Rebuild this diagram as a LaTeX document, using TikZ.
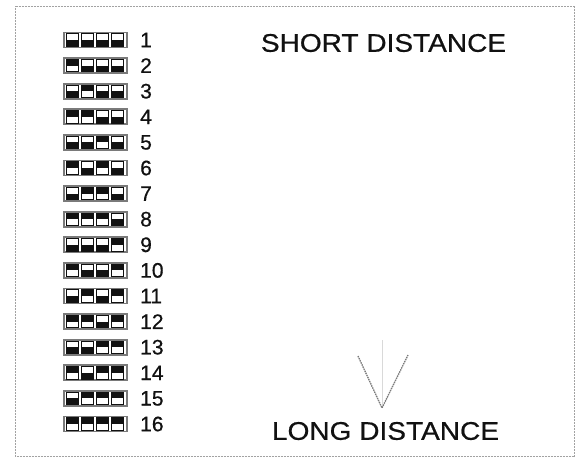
\documentclass[tikz,border=0pt]{standalone}
\usepackage{fontspec}
\setmainfont{Liberation Sans}
\newfontfamily\scanfont{Liberation Sans}[FakeBold=0.6]
\usetikzlibrary{positioning}
\definecolor{ink}{HTML}{111111}
\definecolor{halftone}{HTML}{7A7A7A}

\begin{document}
\begin{tikzpicture}[x=1pt, y=-1pt,
    every node/.style={font=\scanfont, text=ink},
    frame/.style={draw=halftone!70, line width=0.7pt, dash pattern=on 1pt off 0.5pt},
    dip/.style={rectangle, draw=halftone, line width=1.8pt, minimum width=63pt,
                minimum height=15pt, inner sep=0pt},
    cell/.style={draw=ink, line width=0.8pt, fill=white},
    num/.style={font=\scanfont\fontsize{21}{21}\selectfont, anchor=west, inner sep=0pt},
    head/.style={font=\scanfont\fontsize{25.5}{25.5}\selectfont, xscale=1.1, inner sep=0pt},
    vee/.style={draw=halftone, line width=1.3pt, dash pattern=on 1.5pt off 0.8pt},
]
\useasboundingbox (0,0) rectangle (577,458);
\draw[frame] (15,6) rectangle (574,456);

% ================================================================ switches
\foreach \n in {1,...,16}{
    \pgfmathsetmacro\rowy{40+(\n-1)*25.6}
    \node[dip] (sw\n) at (95.5,\rowy) {};
    \node[num] (no\n) at (140,\rowy) {\n};
    \foreach \k in {1,...,4}{
        \pgfmathtruncatemacro\bit{mod(floor((\n-1)/2^(\k-1)),2)}
        \pgfmathsetmacro\cx{72.5+(\k-1)*15}
        \draw[cell] (\cx-5.8,\rowy-6.2) rectangle (\cx+5.8,\rowy+6.2);
        \ifnum\bit=1
            \fill[ink] (\cx-5.8,\rowy-6.2) rectangle (\cx+5.8,\rowy);
        \else
            \fill[ink] (\cx-5.8,\rowy) rectangle (\cx+5.8,\rowy+6.2);
        \fi
    }
}

% ================================================================ range
\node[head] (short) at (383.5,43) {SHORT DISTANCE};
\node[head] (long) at (385.5,431) {LONG DISTANCE};

\coordinate (vtop) at (382,340);
\coordinate (vtip) at (382,408);
\coordinate (vleft) at (358,356);
\coordinate (vright) at (408,355);
\draw[black!15, line width=0.6pt] (vtop) -- (vtip);
\draw[vee] (vleft) -- (vtip) -- (vright);

\end{tikzpicture}
\end{document}
